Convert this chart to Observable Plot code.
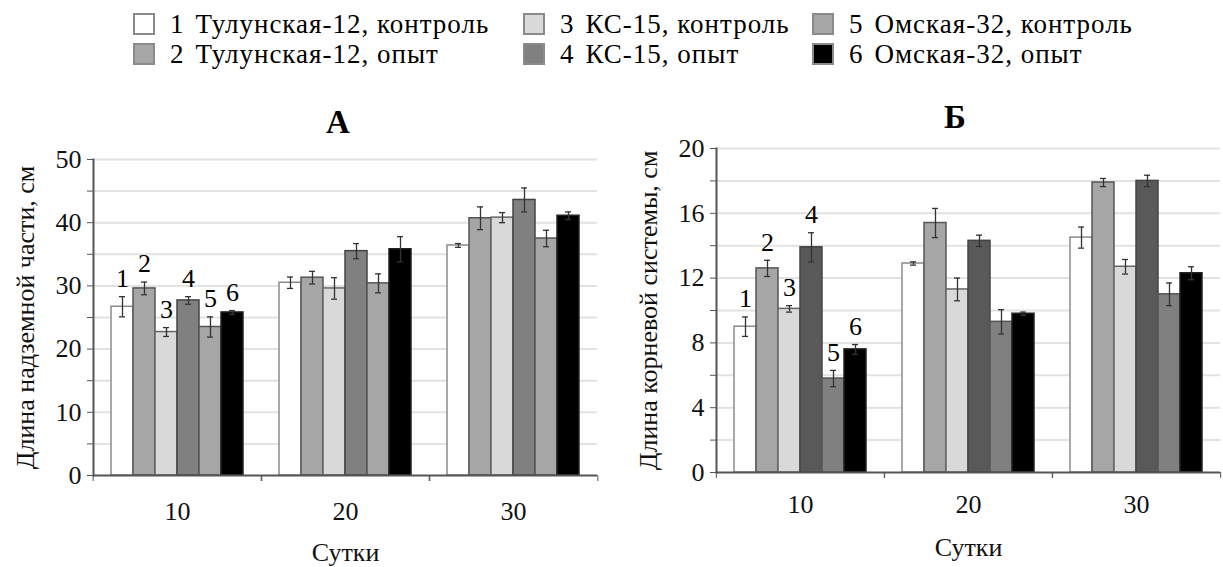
<!DOCTYPE html>
<html>
<head>
<meta charset="utf-8">
<script src="https://cdn.jsdelivr.net/npm/d3@7"></script>
<script src="https://cdn.jsdelivr.net/npm/@observablehq/plot@0.6"></script>
<style>
  html, body { margin: 0; padding: 0; background: #fff; }
  #root { position: relative; width: 1223px; height: 567px; overflow: hidden; font-family: "Liberation Serif", "Times New Roman", serif; color: #000; }
  .panel { position: absolute; top: 0; }
  .legend-item { position: absolute; display: flex; align-items: center; font-size: 27px; white-space: nowrap; line-height: 1; letter-spacing: 1px; }
  .sw { width: 22px; height: 22px; box-sizing: border-box; border: 2px solid #8a8a8a; margin-right: 15px; }
  .num { margin-right: 11px; }
  .ptitle { position: absolute; font-weight: bold; font-size: 33px; transform: translate(-50%, -50%); }
</style>
</head>
<body>
<div id="root"></div>
<script>
// ---------- data ----------
const days = [10, 20, 30];
const series = ["1", "2", "3", "4", "5", "6"];
const legendLabels = [
  "Тулунская-12, контроль",
  "Тулунская-12, опыт",
  "КС-15, контроль",
  "КС-15, опыт",
  "Омская-32, контроль",
  "Омская-32, опыт"
];
// Panel А: shoot length, cm (rows = series 1..6, columns = days 10,20,30)
const shootMean = [
  [26.7, 30.5, 36.4],
  [29.6, 31.3, 40.7],
  [22.7, 29.6, 40.8],
  [27.7, 35.5, 43.6],
  [23.5, 30.4, 37.5],
  [25.8, 35.8, 41.1]
];
const shootErr = [
  [1.6, 0.9, 0.3],
  [1.0, 1.0, 1.8],
  [0.7, 1.7, 0.8],
  [0.6, 1.2, 1.9],
  [1.6, 1.5, 1.3],
  [0.3, 2.0, 0.6]
];
// Panel Б: root length, cm
const rootMean = [
  [9.0, 12.9, 14.5],
  [12.6, 15.4, 17.9],
  [10.1, 11.3, 12.7],
  [13.9, 14.3, 18.0],
  [5.8, 9.3, 11.0],
  [7.6, 9.8, 12.3]
];
const rootErr = [
  [0.6, 0.1, 0.65],
  [0.5, 0.9, 0.25],
  [0.2, 0.7, 0.45],
  [0.9, 0.35, 0.35],
  [0.5, 0.75, 0.7],
  [0.3, 0.1, 0.4]
];
const yTicksA = [0, 5, 10, 15, 20, 25, 30, 35, 40, 45, 50];
const yTicksB = [0, 2, 4, 6, 8, 10, 12, 14, 16, 18, 20];
const yLabelsEveryA = 10;
const yLabelsEveryB = 4;
const titleA = "А";
const titleB = "Б";
const yTitleA = "Длина надземной части, см";
const yTitleB = "Длина корневой системы, см";
const xTitle = "Сутки";
const fillsA = ["#ffffff", "#a6a6a6", "#d9d9d9", "#808080", "#a6a6a6", "#000000"];
const fillsB = ["#ffffff", "#a6a6a6", "#d9d9d9", "#595959", "#808080", "#000000"];
const legendFills = ["#ffffff", "#a6a6a6", "#d9d9d9", "#808080", "#a6a6a6", "#000000"];
const strokes = ["#8a8a8a", "#555555", "#666666", "#444444", "#555555", "#222222"];

// ---------- build ----------
const FONT = "Liberation Serif";
const root = document.getElementById("root");

function table(mean, err) {
  return days.flatMap((day, i) => series.map((s, j) => ({day, series: s, v: mean[j][i], e: err[j][i]})));
}

function panel({data, fills, yMax, ticks, every, yTitle, width, height, mt, mb, ml, mr, po, labelOffset, xPad, xLabelOffset}) {
  const fw = (width - ml - mr) / days.length;
  return Plot.plot({
    width, height,
    marginTop: mt, marginBottom: mb, marginLeft: ml, marginRight: mr,
    style: {fontFamily: FONT, fontSize: "26px", background: "transparent", color: "#111", overflow: "visible"},
    fx: {domain: days, padding: 0, label: null},
    x: {domain: series, paddingInner: 0, paddingOuter: po, axis: null},
    y: {domain: [0, yMax]},
    color: {domain: series, range: fills},
    marks: [
      Plot.ruleY(ticks.filter(t => t > 0), {stroke: "#e2e2e2", strokeWidth: 2}),
      Plot.barY(data, {fx: "day", x: "series", y1: 0, y2: "v", fill: "series",
        stroke: d => strokes[series.indexOf(d.series)], strokeWidth: 1.5}),
      Plot.ruleX(data, {fx: "day", x: "series", y1: d => d.v - d.e, y2: d => d.v + d.e, stroke: "#333", strokeWidth: 1.3}),
      Plot.tickY(data, {fx: "day", x: "series", y: d => d.v + d.e, stroke: "#333", strokeWidth: 1.3, insetLeft: 8, insetRight: 8}),
      Plot.tickY(data, {fx: "day", x: "series", y: d => d.v - d.e, stroke: "#333", strokeWidth: 1.3, insetLeft: 8, insetRight: 8}),
      Plot.text(data.filter(d => d.day === days[0]), {fx: "day", x: "series", y: d => d.v + d.e, text: "series", dy: -18,
        fontSize: 26, fontFamily: FONT, fill: "#000"}),
      Plot.ruleY([0], {stroke: "#555", strokeWidth: 2}),
      Plot.frame({anchor: "left", facetAnchor: "left", stroke: "#555", strokeWidth: 2}),
      Plot.axisY({ticks, tickFormat: d => d % every === 0 ? d : "", tickSize: 6, tickPadding: 6, fontFamily: FONT, fontVariant: "normal",
        label: yTitle, labelAnchor: "center", labelArrow: "none", labelOffset, stroke: "#555", fill: "#111"}),
      Plot.axisFx({anchor: "bottom", tickSize: 0, tickPadding: xPad, fontFamily: FONT, fontVariant: "normal",
        label: xTitle, labelAnchor: "center", labelArrow: "none", labelOffset: xLabelOffset, fill: "#111"}),
      Plot.axisFx({anchor: "bottom", tickSize: 6, tickFormat: () => "", dx: -fw / 2, label: null, stroke: "#555"}),
      Plot.axisFx({anchor: "bottom", tickSize: 6, tickFormat: () => "", dx: fw / 2, label: null, stroke: "#555"})
    ]
  });
}

const svgA = panel({data: table(shootMean, shootErr), fills: fillsA, yMax: 50, ticks: yTicksA, every: yLabelsEveryA,
  yTitle: yTitleA, width: 610, height: 567, mt: 159, mb: 92, ml: 92, mr: 12, po: 0.75, labelOffset: 78, xPad: 26, xLabelOffset: 85});
const svgB = panel({data: table(rootMean, rootErr), fills: fillsB, yMax: 20, ticks: yTicksB, every: yLabelsEveryB,
  yTitle: yTitleB, width: 613, height: 567, mt: 148, mb: 95, ml: 105, mr: 3, po: 0.72, labelOffset: 78, xPad: 22, xLabelOffset: 83});

const pa = document.createElement("div"); pa.className = "panel"; pa.style.left = "0px"; pa.appendChild(svgA); root.appendChild(pa);
const pb = document.createElement("div"); pb.className = "panel"; pb.style.left = "610px"; pb.appendChild(svgB); root.appendChild(pb);

// titles
[[titleA, 338, 122], [titleB, 955, 117]].forEach(([t, x, y]) => {
  const d = document.createElement("div"); d.className = "ptitle"; d.textContent = t;
  d.style.left = x + "px"; d.style.top = y + "px"; root.appendChild(d);
});

// legend: 3 columns x 2 rows (1,3,5 on top; 2,4,6 below)
const colX = [133, 523, 812];
const rowY = [24, 54];
series.forEach((s, i) => {
  const col = Math.floor(i / 2), row = i % 2;
  const item = document.createElement("div"); item.className = "legend-item";
  item.style.left = colX[col] + "px"; item.style.top = (rowY[row] - 14) + "px"; item.style.height = "28px";
  const sw = document.createElement("div"); sw.className = "sw"; sw.style.background = legendFills[i];
  const num = document.createElement("span"); num.className = "num"; num.textContent = s;
  const lab = document.createElement("span"); lab.textContent = legendLabels[i];
  item.append(sw, num, lab); root.appendChild(item);
});
</script>
</body>
</html>
